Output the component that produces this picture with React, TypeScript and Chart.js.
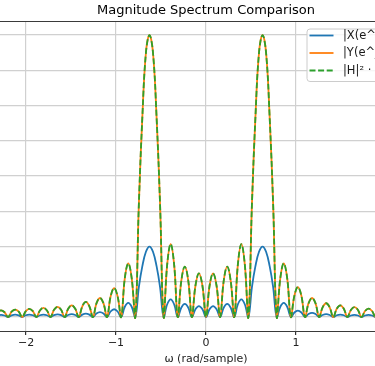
import React, { useEffect, useRef } from "react";
import { Chart, registerables } from "chart.js";

Chart.register(...registerables);

// Sample grid: quarter-bin steps, bin = pi/20 rad/sample, starting at bin -15
const START_BIN = -15;
const BIN_STEP = 0.25;
const BIN_WIDTH = Math.PI / 20;

// |X(e^jω)| (blue)
const magX = [
  0, 0.43, 0.6, 0.43,
  0, 0.46, 0.65, 0.46,
  0, 0.5, 0.7, 0.5,
  0, 0.5, 0.7, 0.5,
  0, 0.53, 0.75, 0.53,
  0, 0.57, 0.8, 0.57,
  0, 0.67, 0.95, 0.67,
  0, 1.0, 1.4, 1.0,
  0, 1.56, 2.2, 1.56,
  0, 2.84, 4.0, 2.84,
  0, 8.5, 14.5, 18.5,
  20, 18.5, 14.5, 8.5,
  0, 3.55, 5.0, 3.55,
  0, 2.63, 3.7, 2.63,
  0, 2.2, 3.1, 2.2,
  0, 2.2, 3.1, 2.2,
  0, 2.63, 3.7, 2.63,
  0, 3.55, 5.0, 3.55,
  0, 8.5, 14.5, 18.5,
  20, 18.5, 14.5, 8.5,
  0, 2.84, 4.0, 2.84,
  0, 1.28, 1.8, 1.28,
  0, 0.85, 1.2, 0.85,
  0, 0.57, 0.8, 0.57,
  0, 0.5, 0.7, 0.5,
  0, 0.43, 0.6, 0.43,
  0, 0.43, 0.6, 0.43,
  0, 0.39, 0.55, 0.39,
  0,
];

// |Y(e^jω)| (orange)
const magY = [
  0, 1.35, 1.9, 1.35,
  0, 1.5, 2.1, 1.5,
  0, 1.65, 2.3, 1.65,
  0, 1.85, 2.6, 1.85,
  0, 2.05, 2.9, 2.05,
  0, 2.35, 3.3, 2.35,
  0, 3.05, 4.3, 3.05,
  0, 3.85, 5.4, 3.85,
  0, 5.8, 8.2, 5.8,
  0, 10.8, 15.2, 10.8,
  0, 32, 57, 75,
  80, 75, 57, 32,
  0, 14.7, 20.7, 14.7,
  0, 10.2, 14.3, 10.2,
  0, 8.8, 12.4, 8.8,
  0, 8.8, 12.4, 8.8,
  0, 10.2, 14.3, 10.2,
  0, 14.7, 20.7, 14.7,
  0, 32, 57, 75,
  80, 75, 57, 32,
  0, 10.8, 15.2, 10.8,
  0, 6.0, 8.5, 6.0,
  0, 3.85, 5.4, 3.85,
  0, 2.75, 3.9, 2.75,
  0, 2.35, 3.3, 2.35,
  0, 2.0, 2.8, 2.0,
  0, 1.7, 2.4, 1.7,
  0, 1.5, 2.1, 1.5,
  0,
];

// |H|² · |X| (green, dashed) — coincides with |Y|
const magH2X = magY.slice();

const xTicks = [-3, -2, -1, 0, 1, 2, 3];
const labels = ["|X(e^jω)|", "|Y(e^jω)|", "|H|² · |X|"];
const colors = ["#1f77b4", "#ff7f0e", "#2ca02c"];

const FONT = "'DejaVu Sans', sans-serif";

const omegaAt = (i: number) => (START_BIN + i * BIN_STEP) * BIN_WIDTH;
const toPoints = (arr: number[]) => arr.map((v, i) => ({ x: omegaAt(i), y: v }));

const framePlugin = {
  id: "frameAndLegend",
  afterDraw(chart: any) {
    const { ctx, chartArea } = chart;
    ctx.save();
    // top spine
    ctx.strokeStyle = "#3a3a3a";
    ctx.lineWidth = 1;
    ctx.beginPath();
    ctx.moveTo(chartArea.left, chartArea.top + 0.5);
    ctx.lineTo(chartArea.right, chartArea.top + 0.5);
    ctx.stroke();

    // legend (upper right inside axes)
    const bx = chartArea.left + 412;
    const by = 29;
    const bw = 204;
    const bh = 52.5;
    const r = 3;
    ctx.beginPath();
    ctx.moveTo(bx + r, by);
    ctx.lineTo(bx + bw - r, by);
    ctx.quadraticCurveTo(bx + bw, by, bx + bw, by + r);
    ctx.lineTo(bx + bw, by + bh - r);
    ctx.quadraticCurveTo(bx + bw, by + bh, bx + bw - r, by + bh);
    ctx.lineTo(bx + r, by + bh);
    ctx.quadraticCurveTo(bx, by + bh, bx, by + bh - r);
    ctx.lineTo(bx, by + r);
    ctx.quadraticCurveTo(bx, by, bx + r, by);
    ctx.closePath();
    ctx.fillStyle = "rgba(255,255,255,0.8)";
    ctx.fill();
    ctx.strokeStyle = "#cccccc";
    ctx.lineWidth = 1;
    ctx.stroke();

    const rows = [35.5, 53, 70.5];
    ctx.font = `11.5px ${FONT}`;
    ctx.textBaseline = "middle";
    labels.forEach((lab, i) => {
      ctx.strokeStyle = colors[i];
      ctx.lineWidth = 1.8;
      ctx.setLineDash(i === 2 ? [6, 2.6] : []);
      ctx.beginPath();
      ctx.moveTo(bx + 2.5, rows[i]);
      ctx.lineTo(bx + 26.5, rows[i]);
      ctx.stroke();
      ctx.setLineDash([]);
      ctx.fillStyle = "#1a1a1a";
      ctx.fillText(lab, bx + 36, rows[i] + 0.5);
    });
    ctx.restore();
  },
};

export default function App() {
  const ref = useRef<HTMLCanvasElement | null>(null);

  useEffect(() => {
    if (!ref.current) return;
    const chart = new Chart(ref.current, {
      type: "line",
      data: {
        datasets: [
          {
            label: labels[0],
            data: toPoints(magX),
            borderColor: colors[0],
            borderWidth: 1.8,
            pointRadius: 0,
            tension: 0.4,
            order: 3,
          },
          {
            label: labels[1],
            data: toPoints(magY),
            borderColor: colors[1],
            borderWidth: 1.8,
            pointRadius: 0,
            tension: 0.4,
            order: 2,
          },
          {
            label: labels[2],
            data: toPoints(magH2X),
            borderColor: colors[2],
            borderWidth: 1.8,
            borderDash: [6, 2.6],
            pointRadius: 0,
            tension: 0.4,
            order: 1,
          },
        ],
      },
      options: {
        animation: false,
        responsive: false,
        devicePixelRatio: 1,
        layout: { padding: { left: 44, right: 44, top: 0, bottom: 0 } },
        plugins: {
          legend: { display: false },
          tooltip: { enabled: false },
          title: {
            display: true,
            text: "Magnitude Spectrum Comparison",
            color: "#000",
            font: { family: FONT, size: 13, weight: "normal" },
            padding: { top: 3, bottom: 2.4 },
          },
        },
        scales: {
          x: {
            type: "linear",
            min: -3.456,
            max: 3.456,
            afterBuildTicks: (scale: any) => {
              scale.ticks = xTicks.map((v) => ({ value: v }));
            },
            ticks: {
              autoSkip: false,
              maxRotation: 0,
              padding: 1.5,
              color: "#222",
              font: { family: FONT, size: 11 },
              callback: (v: any) => (Number(v) < 0 ? "\u2212" + Math.abs(Number(v)) : String(v)),
            },
            grid: {
              color: "#d0d0d0",
              lineWidth: 1.2,
              tickLength: 4,
              tickColor: "#333",
              drawTicks: true,
            },
            border: { display: true, color: "#3a3a3a", width: 1 },
            title: {
              display: true,
              text: "ω (rad/sample)",
              color: "#222",
              font: { family: FONT, size: 11 },
              padding: { top: 1.5, bottom: 0 },
            },
          },
          y: {
            type: "linear",
            min: -4,
            max: 84,
            ticks: { display: false, stepSize: 10, includeBounds: false },
            grid: { color: "#d0d0d0", lineWidth: 1.2, drawTicks: false },
            border: { display: false },
          },
        },
      },
      plugins: [framePlugin],
    } as any);
    return () => chart.destroy();
  }, []);

  return (
    <div
      style={{
        position: "fixed",
        left: 0,
        top: 0,
        width: 375,
        height: 366,
        overflow: "hidden",
        background: "#fff",
      }}
    >
      <canvas
        ref={ref}
        width={710}
        height={366}
        style={{ position: "absolute", left: -149, top: 0, width: 710, height: 366 }}
      />
    </div>
  );
}
